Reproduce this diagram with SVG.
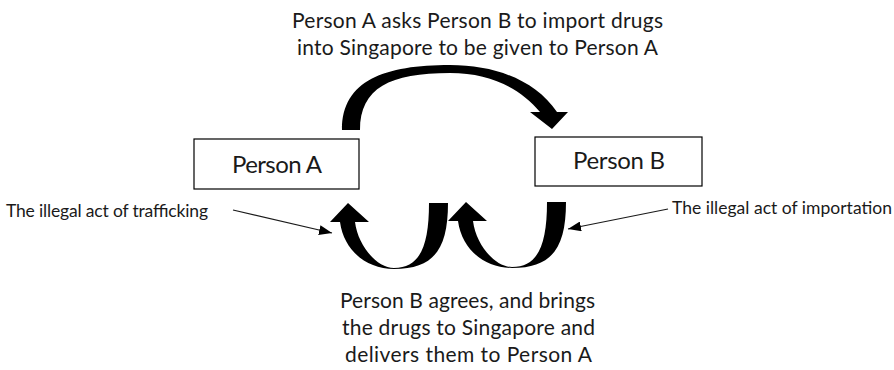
<svg xmlns="http://www.w3.org/2000/svg" xmlns:xlink="http://www.w3.org/1999/xlink" width="894" height="370" viewBox="0 0 894 370">
<style>
  text { font-family: Lato, "Open Sans", "Liberation Sans", sans-serif; fill: #1a1a1a; }
  .box { fill: #ffffff; stroke: #000000; stroke-width: 1.2; }
  .lbl { font-size: 24px; text-anchor: middle; }
  .cap { font-size: 21px; text-anchor: middle; }
  .side { font-size: 17.5px; }
  .block { fill: #000000; stroke: none; }
  .ptr { stroke: #1a1a1a; stroke-width: 1.2; fill: none; marker-end: url(#head); }
</style>
<defs>
  <marker id="head" markerUnits="userSpaceOnUse" markerWidth="14" markerHeight="10" refX="13" refY="5" orient="auto">
    <path d="M0,0 L13,5 L0,10 Z" fill="#000000"/>
  </marker>
  <path id="uarrow" d="M458,221 C462,250 485,268 512,268 C552,268 566,248 566,202 L547,202 C547,245 538,267 512,267 C495,267 476,245 473,221 L487,221 L466,202 L448,221 Z"/>
</defs>

<g id="connectors">
  <path id="ask-arrow" class="block" d="M342,130 C342,80 385,65 450,65 C495,65 535,80 557,112 L568,112 L552,129 L530,112 L540,112 C520,88 490,73 450,73 C390,73 360,88 360,130 Z"/>
  <use id="traffick-arrow" class="block" xlink:href="#uarrow" href="#uarrow" transform="translate(-118,1)"/>
  <use id="import-arrow" class="block" xlink:href="#uarrow" href="#uarrow"/>
  <line id="ptr-traffick" class="ptr" x1="233" y1="210" x2="332" y2="233"/>
  <line id="ptr-import" class="ptr" x1="668" y1="209" x2="568" y2="229"/>
</g>

<g id="node-person-a">
  <rect class="box" x="194" y="139" width="165" height="50"/>
  <text class="lbl" x="277" y="173" textLength="90">Person A</text>
</g>

<g id="node-person-b">
  <rect class="box" x="535" y="137" width="167" height="49"/>
  <text class="lbl" x="619" y="169" textLength="92">Person B</text>
</g>

<g id="label-top">
  <text class="cap" x="477.5" y="28" textLength="371">Person A asks Person B to import drugs</text>
  <text class="cap" x="477.5" y="55" textLength="361">into Singapore to be given to Person A</text>
</g>

<g id="label-bottom">
  <text class="cap" x="467.5" y="308" textLength="255">Person B agrees, and brings</text>
  <text class="cap" x="468.5" y="335" textLength="253">the drugs to Singapore and</text>
  <text class="cap" x="468.5" y="362" textLength="247">delivers them to Person A</text>
</g>

<g id="label-trafficking">
  <text class="side" x="6" y="217" textLength="202">The illegal act of trafficking</text>
</g>

<g id="label-importation">
  <text class="side" x="672" y="214" textLength="220">The illegal act of importation</text>
</g>
</svg>
